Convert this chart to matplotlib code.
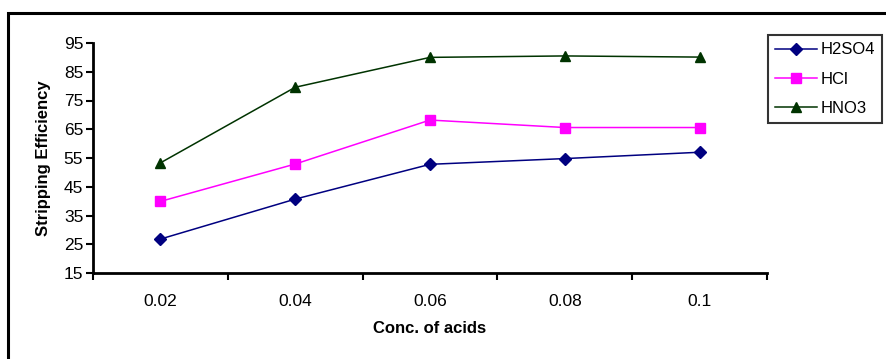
import matplotlib
matplotlib.use('Agg')
import matplotlib.pyplot as plt
from matplotlib.patches import Rectangle

plt.rcParams['font.family'] = ['Liberation Sans', 'DejaVu Sans']

# data
conc = ['0.02', '0.04', '0.06', '0.08', '0.1']
h2so4 = [26.8, 40.7, 52.8, 54.8, 57.0]
hcl = [39.9, 52.9, 68.2, 65.6, 65.6]
hno3 = [53.3, 79.6, 90.0, 90.5, 90.1]

series = [
    ('H2SO4', h2so4, '#000080', 'D', 6.5),
    ('HCl', hcl, '#FF00FF', 's', 7),
    ('HNO3', hno3, '#003300', '^', 7.5),
]

fig = plt.figure(figsize=(8.87, 3.59), dpi=100)
ax = fig.add_axes([93 / 887, 1 - 273 / 359, (767 - 93) / 887, (273 - 43) / 359])

x = list(range(len(conc)))
for name, vals, color, marker, ms in series:
    ax.plot(x, vals, color=color, marker=marker, markersize=ms,
            linewidth=1.1, label=name)

ax.set_xlim(-0.5, len(conc) - 0.5)
ax.set_ylim(15, 95)
ax.set_yticks(range(15, 96, 10))

# category axis: ticks between categories, labels in the middle
ax.set_xticks([i - 0.5 for i in range(len(conc) + 1)])
ax.set_xticklabels([])
ax.set_xticks(x, minor=True)
ax.set_xticklabels(conc, minor=True)
ax.tick_params(axis='x', which='minor', length=0, pad=15, labelsize=12.5)
ax.tick_params(axis='x', which='major', direction='out', length=5, width=1.5)
ax.tick_params(axis='y', direction='out', length=5, width=1.5, labelsize=12.5, pad=2)

for side in ['top', 'right']:
    ax.spines[side].set_visible(False)
for side in ['left', 'bottom']:
    ax.spines[side].set_linewidth(2)

ax.set_ylabel('Stripping Efficiency', fontsize=12, fontweight='bold', labelpad=9)
ax.set_xlabel('Conc. of acids', fontsize=12, fontweight='bold', labelpad=9)

leg = fig.legend(loc='upper left', bbox_to_anchor=(768 / 887, 1 - 35 / 359),
                 fontsize=12, frameon=True, fancybox=False, handlelength=2.5,
                 handletextpad=0.2, borderpad=0.45, labelspacing=0.85,
                 borderaxespad=0)
leg.get_frame().set_edgecolor('black')
leg.get_frame().set_linewidth(1.5)

# outer chart border (cut off at right and bottom in the original)
fig.patches.append(Rectangle((8 / 887, -0.1), 1.0, 1.1 - 13 / 359,
                             transform=fig.transFigure, fill=False,
                             edgecolor='black', linewidth=2.2))

fig.savefig('out.png', dpi=100)
